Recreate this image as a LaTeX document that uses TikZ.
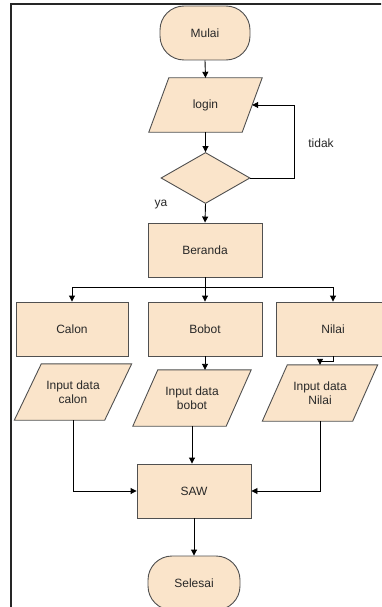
\documentclass[tikz,border=0pt]{standalone}
\usepackage{fontspec}
\setmainfont{Liberation Sans}
\usetikzlibrary{shapes.geometric,arrows.meta,backgrounds}
\definecolor{boxfill}{RGB}{250,228,202}
\definecolor{boxline}{RGB}{80,80,80}
\definecolor{txt}{RGB}{40,40,40}
\tikzset{
  base/.style={draw=boxline, fill=boxfill, line width=0.9pt, text=txt,
    font=\fontsize{12}{14}\selectfont, inner sep=0pt, align=center},
  terminal/.style={base, rounded corners=24pt, minimum height=54pt},
  procbox/.style={base, rectangle, minimum width=114pt, minimum height=54pt},
  iobox/.style={rectangle, text=txt, font=\fontsize{12}{14}\selectfont,
    inner sep=0pt, align=center, minimum height=56pt},
  ioshape/.style={draw=boxline, fill=boxfill, line width=0.9pt},
  decision/.style={base, diamond, minimum width=89pt, minimum height=51pt},
  conn/.style={line width=0.9pt, black},
  arr/.style={conn, -{Triangle[length=6pt,width=6pt]}},
  lbl/.style={text=txt, font=\fontsize{12}{14}\selectfont},
}
% parallelogram behind an input/output node: #1 = node name, #2 = half the slant
\newcommand\ioparallel[2]{%
  \begin{pgfonlayer}{background}
    \filldraw[ioshape] ([xshift=#2]#1.north west) -- ([xshift=#2]#1.north east)
      -- ([xshift=-#2]#1.south east) -- ([xshift=-#2]#1.south west) -- cycle;
  \end{pgfonlayer}}
\begin{document}
\begin{tikzpicture}[x=1pt,y=-1pt]
\useasboundingbox (0,0) rectangle (381,607);
% outer frame
\begin{scope}
\clip (0,0) rectangle (381,607);
\draw[line width=2pt, black!85] (11,4.5) rectangle (430,640);
\end{scope}

% nodes
\node[terminal, minimum width=90pt] (mulai) at (205,33) {Mulai};
\node[iobox, minimum width=93pt, minimum height=54pt] (login) at (205.5,105) {login};
\node[decision] (cek) at (205.5,178) {};
\node[procbox] (beranda) at (205,250) {Beranda};
\node[procbox, minimum width=112pt] (calon) at (72,329) {Calon};
\node[procbox] (bobot) at (205,329) {Bobot};
\node[procbox] (nilai) at (333,329) {Nilai};
\node[iobox, minimum width=90pt] (incalon) at (73,392) {Input data\\calon};
\node[iobox, minimum width=93pt] (inbobot) at (192,398) {Input data\\bobot};
\node[iobox, minimum width=90pt] (innilai) at (320,393) {Input data\\Nilai};
\node[procbox] (saw) at (194,491) {SAW};
\node[terminal, minimum width=92pt] (selesai) at (194,583) {Selesai};

\ioparallel{login}{10pt}
\ioparallel{incalon}{13.5pt}
\ioparallel{inbobot}{12.5pt}
\ioparallel{innilai}{12.5pt}

% labels
\node[lbl] (tidak) at (321,143) {tidak};
\node[lbl] (ya) at (161,205) {ya};

% connectors
\draw[arr] (mulai.south) -- (login.north);
\draw[arr] (login.south) -- (cek.north);
\draw[arr] (cek.east) -- ++(44,0) |- (login.east);
\draw[arr] (cek.south) -- (beranda.north);
\coordinate (split) at (205,287);
\draw[conn] (beranda.south) -- (split);
\draw[arr] (split) -| (calon.north);
\draw[arr] (split) -- (bobot.north);
\draw[arr] (split) -| (nilai.north);
\draw[arr] (bobot.south) -- (bobot.south |- inbobot.north);
\draw[arr] (nilai.south) -- ++(0,5) -| (innilai.north);
\draw[arr] (incalon.south) |- (saw.west);
\draw[arr] (inbobot.south) -- (inbobot.south |- saw.north);
\draw[arr] (innilai.south) |- (saw.east);
\draw[arr] (saw.south) -- (selesai.north);
\end{tikzpicture}
\end{document}
